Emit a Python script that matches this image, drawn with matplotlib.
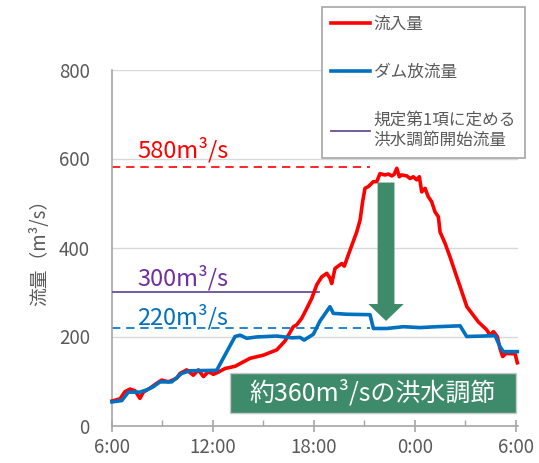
import matplotlib
matplotlib.use("Agg")
import matplotlib.pyplot as plt
from matplotlib.patches import Rectangle
from matplotlib.ticker import MultipleLocator

plt.rcParams["font.family"] = ["Noto Sans CJK JP", "DejaVu Sans"]

# ── Daten (Stunden ab 6:00, m3/s) ────────────────────────────────────────────
t_in = [0.0, 0.48, 0.77, 1.07, 1.37, 1.66, 1.86, 2.26, 2.66, 2.95, 3.35, 3.84,
        4.04, 4.44, 4.83, 5.13, 5.43, 5.73, 6.02, 6.32, 6.71, 7.31, 8.2, 8.99,
        9.79, 10.28, 10.77, 10.97, 11.27, 11.57, 11.87, 12.16, 12.46, 12.76,
        12.95, 13.05, 13.25, 13.65, 13.8, 14.14, 14.54, 14.74, 14.89, 15.03,
        15.23, 15.53, 15.73, 15.92, 16.22, 16.42, 16.62, 16.76, 16.92, 17.07,
        17.21, 17.51, 17.71, 17.9, 18.1, 18.26, 18.4, 18.6, 18.79, 18.99,
        19.19, 19.39, 19.49, 19.79, 20.08, 20.48, 20.68, 21.08, 21.76, 22.26,
        22.46, 22.66, 22.89, 23.05, 23.21, 23.41, 23.95, 24.08]
q_in = [55, 60, 76, 82, 78, 61, 75, 84, 95, 102, 98, 106,
        117, 125, 113, 125, 110, 121, 115, 120, 128, 133, 151, 158,
        170, 190, 222, 226, 241, 263, 286, 316, 334, 342,
        331, 319, 353, 364, 358, 394, 435, 462, 503, 533,
        537, 548, 548, 566, 563, 565, 561, 564, 578, 559,
        563, 561, 555, 559, 552, 559, 525, 533, 514, 503,
        480, 469, 435, 409, 379, 334, 312, 267, 233, 215,
        203, 211, 200, 173, 155, 162, 161, 141]

t_out = [0.0, 0.58, 0.97, 1.66, 2.06, 2.45, 2.85, 3.55, 4.14, 4.63, 6.22, 7.31,
         7.61, 8.0, 8.6, 9.79, 10.68, 11.17, 11.41, 11.96, 12.36, 12.95, 13.15,
         13.95, 15.33, 15.53, 16.32, 17.31, 18.3, 19.29, 20.68, 21.07, 22.06,
         22.76, 23.05, 23.25, 24.08]
q_out = [53, 56, 75, 75, 80, 87, 98, 98, 117, 123, 124, 200,
         203, 196, 199, 201, 197, 198, 192, 205, 235, 267, 252,
         250, 249, 218, 218, 222, 220, 222, 224, 200, 201,
         202, 177, 166, 166]

q_peak = 580      # Spitzenzufluss
q_start = 300     # Beginn Hochwasserregelung
q_release = 220   # Abgabe während Regelung
q_cut = 360       # Kappung

t_ref_end = 15.33     # Ende der gestrichelten Linien
t_start_end = 12.27   # Ende der 300er-Linie

xticks = [0, 6, 12, 18, 24]
xlabels = ["6:00", "12:00", "18:00", "0:00", "6:00"]

# ── Farben ───────────────────────────────────────────────────────────────────
RED = "#ff0000"
BLUE = "#0070c0"
PURPLE = "#6a4e93"
GREEN = "#3d8b6a"
GRAY = "#595959"

fig = plt.figure(figsize=(5.39, 4.63), dpi=100)
ax = fig.add_axes([112 / 539, 1 - 425.5 / 463, 406 / 539, 356 / 463])

ax.set_xlim(0, 24.12)
ax.set_ylim(0, 800)
ax.yaxis.set_major_locator(MultipleLocator(200))
ax.grid(axis="y", color="#d9d9d9", lw=1.0)
ax.set_axisbelow(True)

for s in ["top", "right"]:
    ax.spines[s].set_visible(False)
for s in ["left", "bottom"]:
    ax.spines[s].set_color("#a6a6a6")
    ax.spines[s].set_linewidth(1.2)

ax.set_xticks(xticks)
ax.set_xticklabels(xlabels)
ax.xaxis.set_minor_locator(MultipleLocator(3))
ax.tick_params(axis="x", which="major", direction="inout", length=8, width=1.2,
               color="#a6a6a6", labelsize=13.5, labelcolor=GRAY, pad=4)
ax.tick_params(axis="x", which="minor", direction="in", length=4, width=1.0,
               color="#a6a6a6")
ax.tick_params(axis="y", length=0, labelsize=13.5, labelcolor=GRAY, pad=16)
ax.set_ylabel("流量（m³/s）", fontsize=13.5, color=GRAY, labelpad=6)

# Bezugslinien
ax.plot([0, t_ref_end], [q_peak, q_peak], color=RED, lw=1.2, ls=(0, (5, 3.5)))
ax.plot([0, t_ref_end], [q_release, q_release], color=BLUE, lw=1.2, ls=(0, (5, 3.5)))
ax.plot([0, t_start_end], [q_start, q_start], color=PURPLE, lw=1.3,
        label="規定第1項に定める\n洪水調節開始流量", zorder=3)

# Ganglinien
ax.plot(t_in, q_in, color=RED, lw=2.6, label="流入量", zorder=4,
        solid_joinstyle="round", clip_on=False)
ax.plot(t_out, q_out, color=BLUE, lw=2.6, label="ダム放流量", zorder=5,
        solid_joinstyle="round", clip_on=False)

ax.text(1.5, 619, f"{q_peak}m³/s", color=RED, fontsize=17, va="center")
ax.text(1.5, 331, f"{q_start}m³/s", color="#7030a0", fontsize=17, va="center")
ax.text(1.5, 244, f"{q_release}m³/s", color=BLUE, fontsize=17, va="center")

# Pfeil: Kappung
ax.arrow(16.28, 546, 0, 235 - 546, width=1.0, head_width=2.1, head_length=38,
         length_includes_head=True, color=GREEN, lw=0, zorder=6)

# Beschriftungskasten
ax.add_patch(Rectangle((7.02, 29), 17.0, 88, facecolor=GREEN, edgecolor="#c8c8c8",
                       lw=1.0, zorder=7, clip_on=False))
ax.text(15.5, 73, f"約{q_cut}m³/sの洪水調節", color="white", fontsize=18,
        ha="center", va="center", zorder=8)

h, l = ax.get_legend_handles_labels()
order = [1, 2, 0]
leg = ax.legend([h[i] for i in order], [l[i] for i in order],
                loc="upper left", bbox_to_anchor=(322 / 539, 1 - 7 / 463),
                bbox_transform=fig.transFigure, borderaxespad=0,
                fontsize=12, labelspacing=1.85, handlelength=2.35,
                handletextpad=0.2, borderpad=0.55, fancybox=False,
                framealpha=1, edgecolor="#a6a6a6")
leg.get_frame().set_linewidth(1.2)
for txt in leg.get_texts():
    txt.set_color(GRAY)
leg.set_zorder(10)

fig.savefig("out.png", dpi=100)
